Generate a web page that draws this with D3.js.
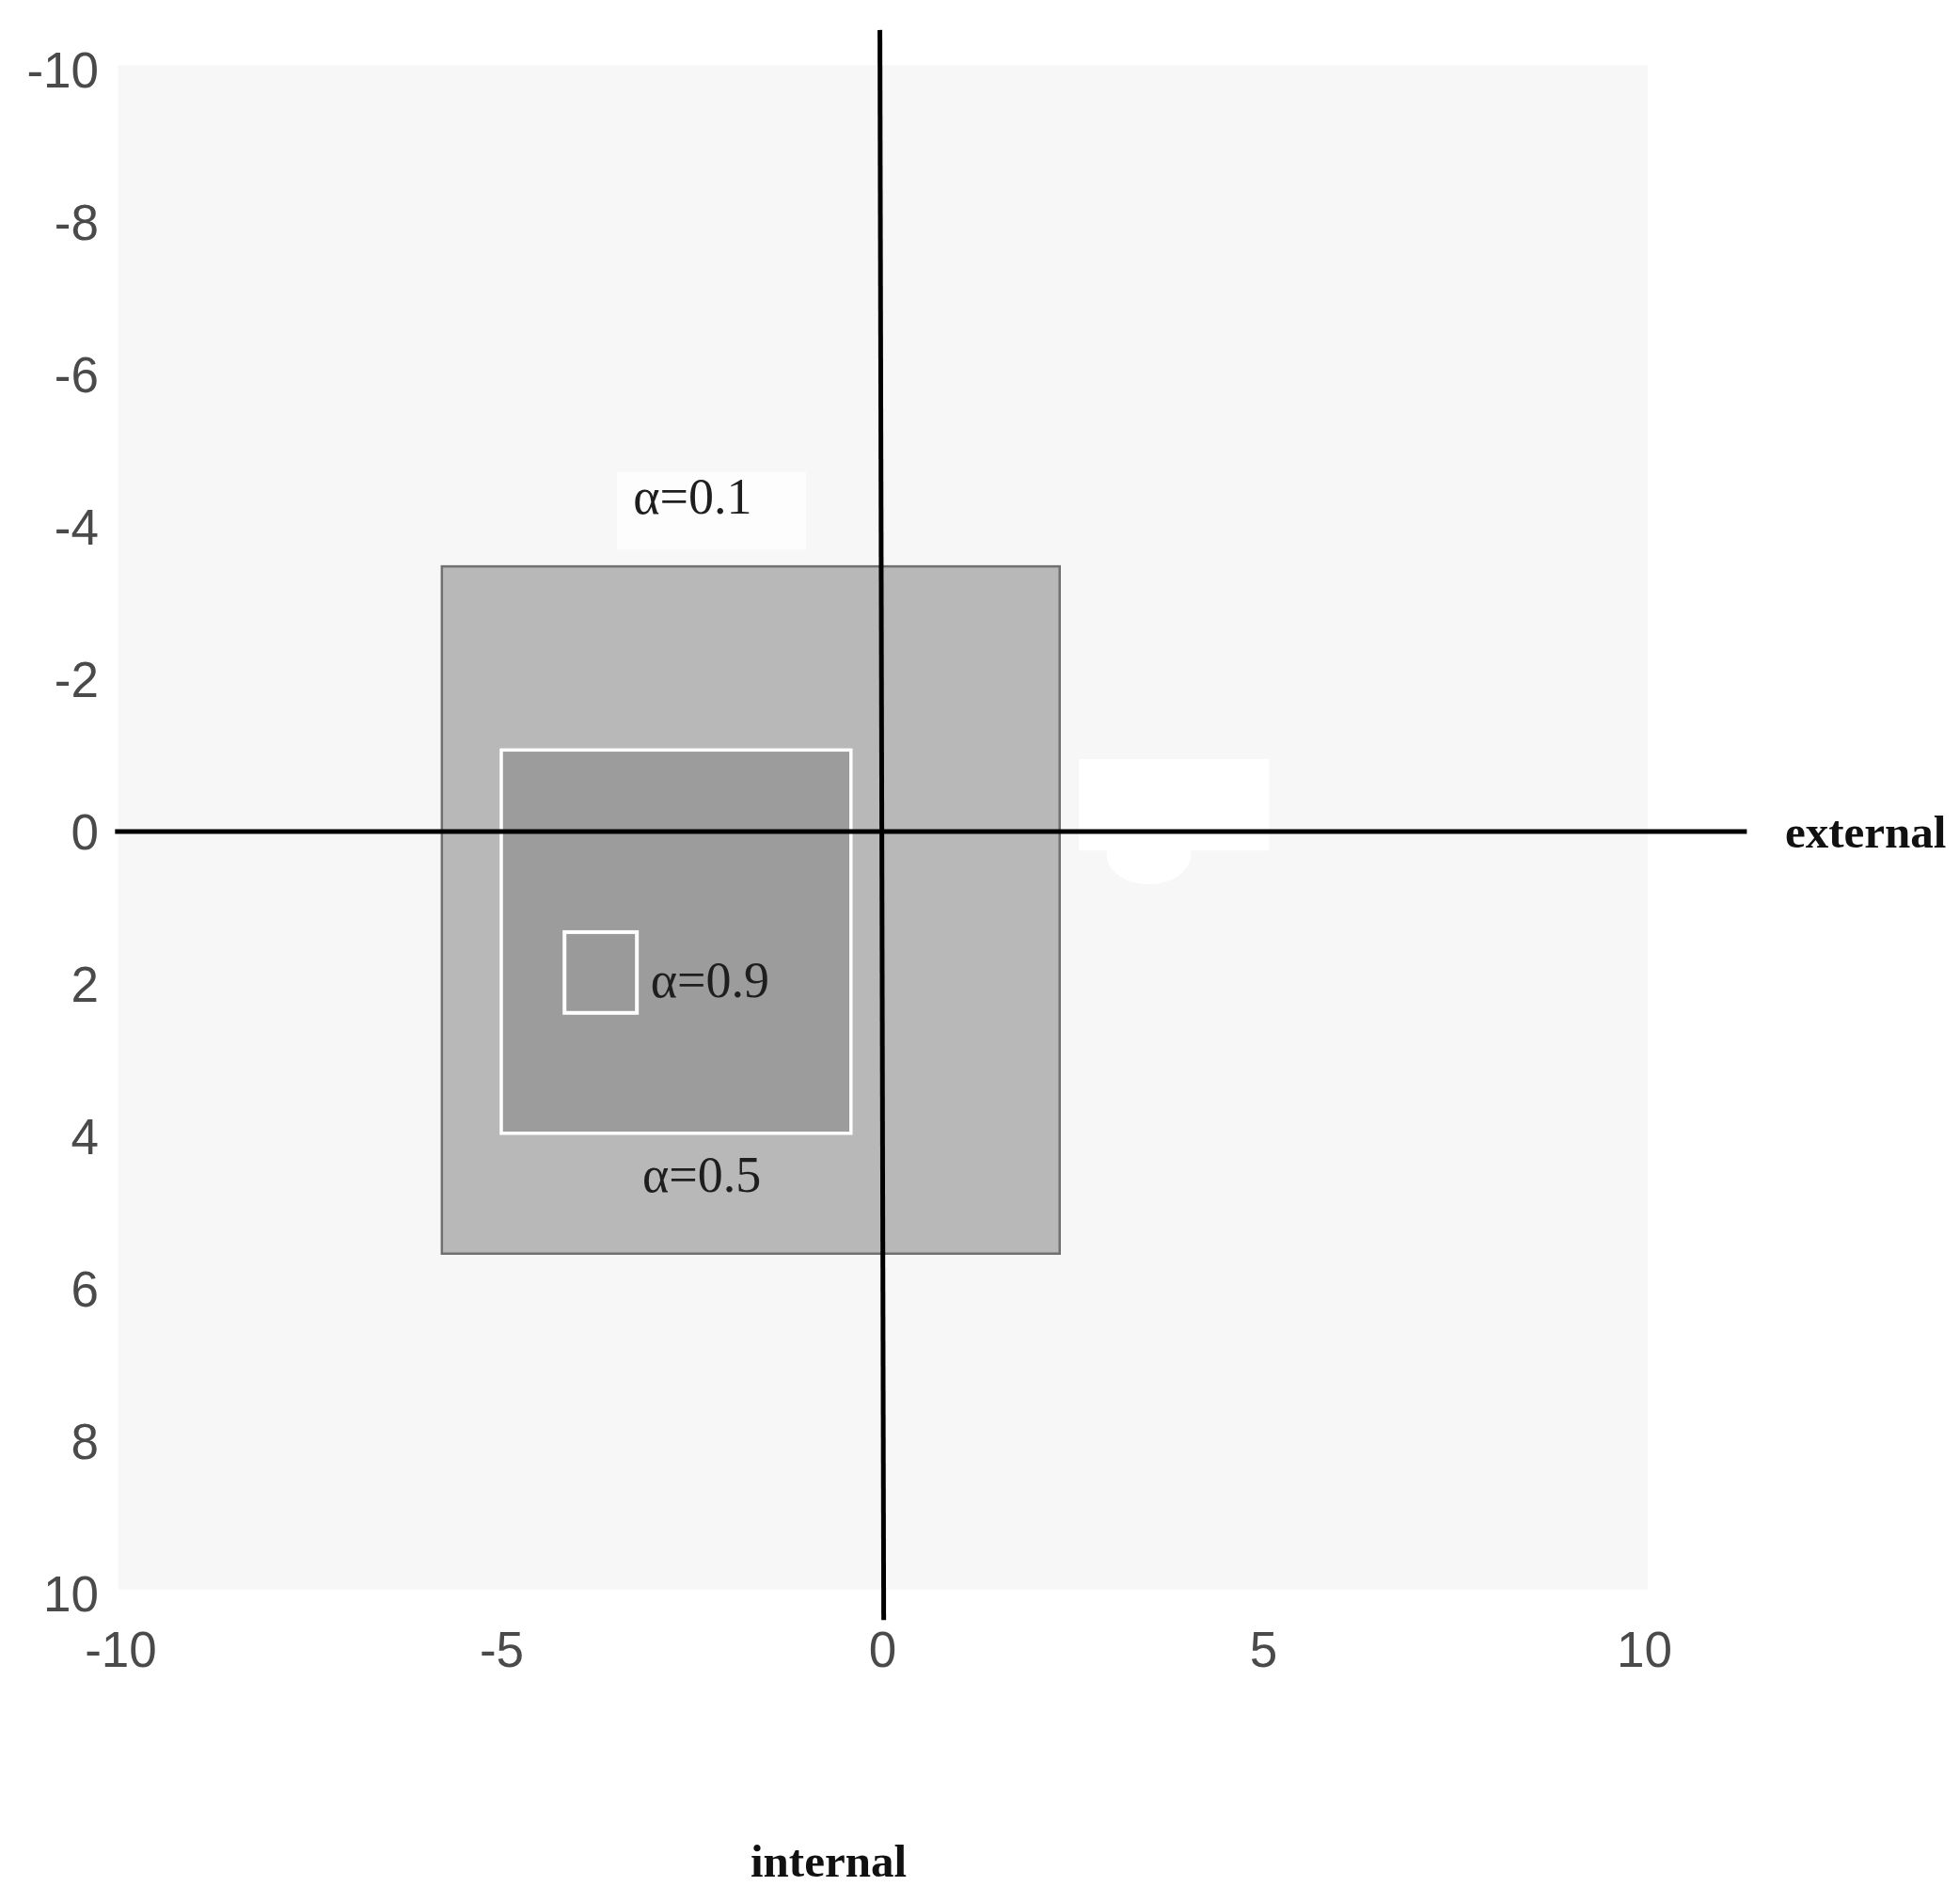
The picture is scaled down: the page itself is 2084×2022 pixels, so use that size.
<!DOCTYPE html>
<html><head><meta charset="utf-8">
<script src="https://cdn.jsdelivr.net/npm/d3@7"></script>
<style>html,body{margin:0;padding:0;background:#fff;}</style>
</head><body>
<script>
// ---- data ----
const xTicks = [-10, -5, 0, 5, 10];
const yTicks = [-10, -8, -6, -4, -2, 0, 2, 4, 6, 8, 10];
const regionNames = ["α=0.1", "α=0.5", "α=0.9"];
const regionX0 = [-5.78, -5.0, -4.17];
const regionX1 = [2.33, -0.41, -3.22];
const regionY0 = [-3.48, -1.07, 1.32];
const regionY1 = [5.54, 3.96, 2.38];
const labelX = [-2.49, -2.37, -3.04];
const labelY = [-4.4, 4.5, 1.95];
const axisXLabel = "external";
const axisYLabel = "internal";

const W = 2084, H = 2022;
const svg = d3.select("body").append("svg").attr("width", W).attr("height", H)
  .style("display", "block");
svg.append("rect").attr("width", W).attr("height", H).attr("fill", "#fff");

const x = d3.scaleLinear().domain([-10, 10]).range([128, 1748]);
const y = d3.scaleLinear().domain([-10, 10]).range([74, 1694]);

// plot background
svg.append("rect")
  .attr("x", x(-10.03)).attr("y", y(-10.06))
  .attr("width", x(10.05) - x(-10.03)).attr("height", y(9.95) - y(-10.06))
  .attr("fill", "#f7f7f7");

// white patches (as in the reference image)
svg.append("rect").attr("x", x(-3.48)).attr("y", y(-4.72))
  .attr("width", x(-1.0) - x(-3.48)).attr("height", y(-3.7) - y(-4.72)).attr("fill", "#fdfdfd");
svg.append("rect").attr("x", x(2.58)).attr("y", y(-0.95))
  .attr("width", x(5.08) - x(2.58)).attr("height", y(0.25) - y(-0.95)).attr("fill", "#ffffff");
svg.append("ellipse").attr("cx", x(3.5)).attr("cy", y(0.3))
  .attr("rx", 45).attr("ry", 32).attr("fill", "#ffffff");

// regions
const fills = ["#b8b8b8", "#9c9c9c", "#9a9a9a"];
const strokes = ["#707070", "#ffffff", "#ffffff"];
const strokeW = [2.5, 3.5, 4];
regionNames.forEach((n, i) => {
  svg.append("rect")
    .attr("x", x(regionX0[i])).attr("y", y(regionY0[i]))
    .attr("width", x(regionX1[i]) - x(regionX0[i]))
    .attr("height", y(regionY1[i]) - y(regionY0[i]))
    .attr("fill", fills[i]).attr("stroke", strokes[i]).attr("stroke-width", strokeW[i]);
});

// region labels
regionNames.forEach((n, i) => {
  svg.append("text")
    .attr("x", x(labelX[i])).attr("y", y(labelY[i]))
    .attr("text-anchor", i === 2 ? "start" : "middle")
    .attr("dominant-baseline", "central")
    .attr("font-family", "'Liberation Serif', 'DejaVu Serif', serif")
    .attr("font-size", 54)
    .attr("fill", "#1e1e1e")
    .text(n);
});

// cross axes lines
svg.append("line").attr("x1", x(-10.07)).attr("x2", x(11.35))
  .attr("y1", y(0)).attr("y2", y(0))
  .attr("stroke", "#000").attr("stroke-width", 5);
svg.append("line").attr("x1", x(-0.03)).attr("x2", x(0.02))
  .attr("y1", y(-10.52)).attr("y2", y(10.35))
  .attr("stroke", "#000").attr("stroke-width", 5);

// tick labels via d3 axes
const fmt = d => String(d);
const gy = svg.append("g").attr("transform", "translate(125,0)")
  .call(d3.axisLeft(y).tickValues(yTicks).tickSize(0).tickPadding(20).tickFormat(fmt));
gy.select(".domain").remove();
gy.selectAll("text").attr("font-family", "'Liberation Sans', Arial, sans-serif")
  .attr("font-size", 53).attr("fill", "#4a4a4a").attr("dy", "0.35em");

const gx = svg.append("g").attr("transform", "translate(0,1753)")
  .call(d3.axisBottom(x).tickValues(xTicks).tickSize(0).tickPadding(0).tickFormat(fmt));
gx.select(".domain").remove();
gx.selectAll("text").attr("font-family", "'Liberation Sans', Arial, sans-serif")
  .attr("font-size", 53).attr("fill", "#4a4a4a").attr("y", 0).attr("dy", "0.35em");

// axis names
svg.append("text").attr("x", 1898).attr("y", y(0))
  .attr("dominant-baseline", "central")
  .attr("font-family", "'Liberation Serif', serif").attr("font-weight", "bold")
  .attr("font-size", 49).attr("fill", "#111").text(axisXLabel);
svg.append("text").attr("x", 881).attr("y", 1978)
  .attr("text-anchor", "middle").attr("dominant-baseline", "central")
  .attr("font-family", "'Liberation Serif', serif").attr("font-weight", "bold")
  .attr("font-size", 49).attr("fill", "#111").text(axisYLabel);
</script>
</body></html>
